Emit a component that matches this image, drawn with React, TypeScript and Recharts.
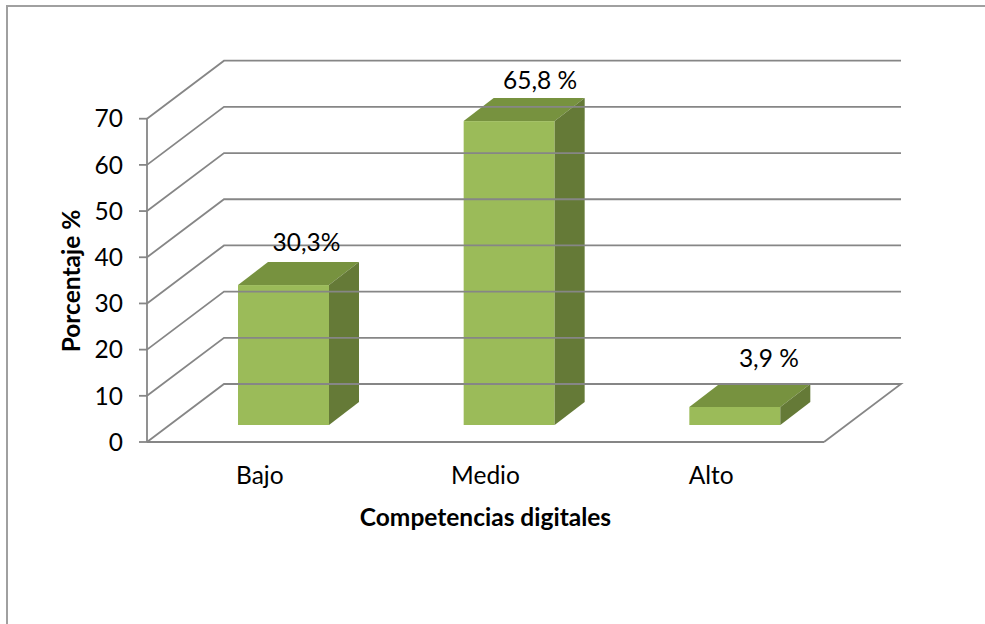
import React from 'react';
import { ComposedChart, Bar, XAxis, YAxis, ReferenceLine, LabelList } from 'recharts';

const categories = ['Bajo', 'Medio', 'Alto'];
const percentages = [30.3, 65.8, 3.9];
const valueLabels = ['30,3%', '65,8 %', '3,9 %'];
const yTicks = [0, 10, 20, 30, 40, 50, 60, 70];

const chartData = categories.map((name, i) => ({ name, value: percentages[i], label: valueLabels[i] }));

const FONT = 'Lato, "Open Sans", sans-serif';
const FONT_SIZE = 24.5;
const AXIS_COLOR = '#868686';

// depth of the back wall and of each box
const WALL_DX = 77;
const WALL_DY = 58;
const BOX_DX = 30;
const BOX_DY = 23;
// boxes stand in the middle of the floor
const BOX_SHIFT_X = 24;
const BOX_SHIFT_Y = 17;

// hand placed labels, relative to the front top centre of the box
const labelShift = [
  { dx: 23, dy: -44 },
  { dx: 31, dy: -42 },
  { dx: 34, dy: -49 },
];

const WallLine = ({ x1, y1, x2, y2, isFloor }: any) => {
  const backY = y1 - WALL_DY;
  const points = isFloor
    ? `${x1},${y1} ${x1 + WALL_DX},${backY} ${x2 + WALL_DX},${backY} ${x2},${y2}`
    : `${x1},${y1} ${x1 + WALL_DX},${backY} ${x2 + WALL_DX},${backY}`;
  return <polyline points={points} fill="none" stroke={AXIS_COLOR} strokeWidth={1.8} />;
};

const Box3D = ({ x, y, width, height }: any) => {
  const left = x + BOX_SHIFT_X;
  const right = left + width;
  const top = y - BOX_SHIFT_Y;
  const bottom = top + height;
  return (
    <g>
      <rect x={left} y={top} width={width} height={height} fill="#9BBB59" />
      <polygon
        points={`${left},${top} ${left + BOX_DX},${top - BOX_DY} ${right + BOX_DX},${top - BOX_DY} ${right},${top}`}
        fill="#77923F"
      />
      <polygon
        points={`${right},${top} ${right + BOX_DX},${top - BOX_DY} ${right + BOX_DX},${bottom - BOX_DY} ${right},${bottom}`}
        fill="#657A37"
      />
    </g>
  );
};

const ValueLabel = ({ x, y, width, index }: any) => {
  const shift = labelShift[index];
  return (
    <text
      x={x + width / 2 + BOX_SHIFT_X + shift.dx}
      y={y - BOX_SHIFT_Y + shift.dy}
      textAnchor="middle"
      dominantBaseline="central"
      fontFamily={FONT}
      fontSize={FONT_SIZE}
      fill="#000"
    >
      {valueLabels[index]}
    </text>
  );
};

export default function App() {
  return (
    <div style={{ position: 'absolute', left: 0, top: 0, width: 985, height: 624, background: '#fff', overflow: 'hidden' }}>
      <div style={{ position: 'absolute', left: 6, top: 5, width: 985, height: 624, borderLeft: '2px solid #a0a0a0', borderTop: '2px solid #a0a0a0' }} />
      <ComposedChart
        width={985}
        height={624}
        data={chartData}
        margin={{ top: 118.7, right: 161, bottom: 122, left: 67 }}
        style={{ position: 'absolute', left: 0, top: 0 }}
      >
        <XAxis
          dataKey="name"
          height={60}
          tickLine={false}
          axisLine={{ stroke: AXIS_COLOR, strokeWidth: 2 }}
          tick={{ fontFamily: FONT, fontSize: FONT_SIZE, fill: '#000' }}
          tickMargin={19}
          label={{ value: 'Competencias digitales', position: 'insideBottom', offset: -24, fontFamily: FONT, fontSize: FONT_SIZE, fontWeight: 700, fill: '#000' }}
        />
        <YAxis
          width={80}
          domain={[0, 70]}
          ticks={yTicks}
          interval={0}
          tickSize={8}
          tickLine={{ stroke: AXIS_COLOR, strokeWidth: 1.8 }}
          axisLine={{ stroke: AXIS_COLOR, strokeWidth: 1.8 }}
          tick={{ fontFamily: FONT, fontSize: FONT_SIZE, fill: '#000' }}
          tickMargin={16}
          label={{ value: 'Porcentaje %', angle: -90, position: 'insideLeft', offset: 4, dy: 72, fontFamily: FONT, fontSize: FONT_SIZE, fontWeight: 700, fill: '#000' }}
        />
        {yTicks.map((v) => (
          <ReferenceLine key={v} y={v} ifOverflow="visible" shape={(p: any) => <WallLine {...p} isFloor={v === 0} />} />
        ))}
        <Bar dataKey="value" barSize={91} shape={<Box3D />} isAnimationActive={false}>
          <LabelList dataKey="label" content={<ValueLabel />} />
        </Bar>
      </ComposedChart>
    </div>
  );
}
